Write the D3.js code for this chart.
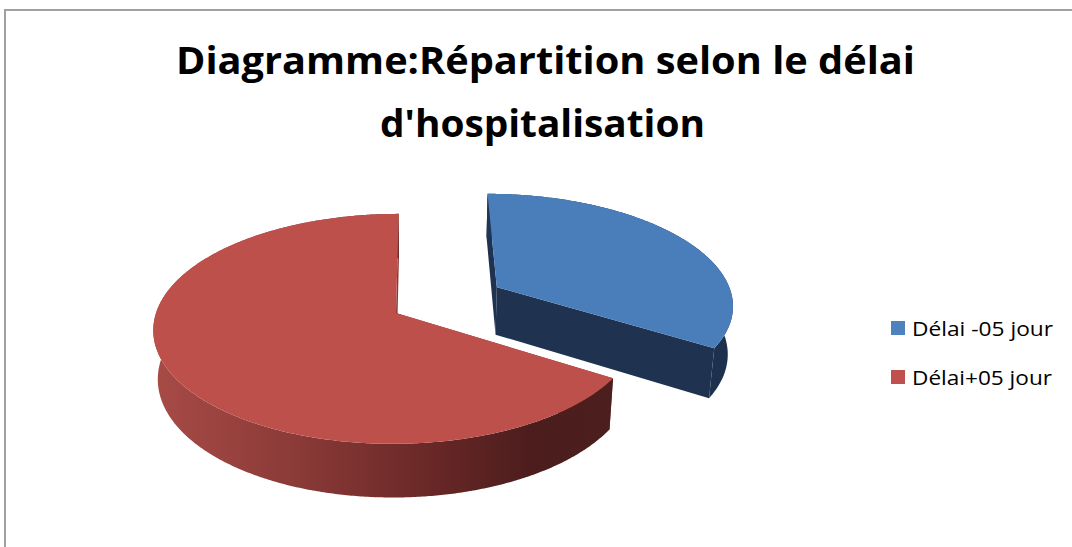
<!DOCTYPE html>
<html>
<head>
<meta charset="utf-8">
<script src="https://cdn.jsdelivr.net/npm/d3@7"></script>
<style>
  html, body { margin: 0; padding: 0; background: #ffffff; }
  svg { display: block; }
</style>
</head>
<body>
<script>
// ---- data ----
const titleLines = ["Diagramme:Répartition selon le délai", "d'hospitalisation"];
const categories = ["Délai -05 jour", "Délai+05 jour"];
const values = [34, 66];

// ---- styles ----
const topColors = ["#4A7EBB", "#BE504C"];
const legendColors = ["#4F81BD", "#C0504D"];
const cutColors = ["#1F3350", "#8A3836"];

const W = 1072, H = 547;
const svg = d3.select("body").append("svg").attr("width", W).attr("height", H);

// frame
svg.append("rect").attr("x", 5).attr("y", 10).attr("width", W + 10).attr("height", H + 10)
  .attr("fill", "none").attr("stroke", "#A0A0A0").attr("stroke-width", 2);

// title
const titleSpec = [{ x: 545.5, y: 74, w: 739 }, { x: 542.5, y: 137, w: 325 }];
titleLines.forEach((t, i) => {
  svg.append("text").text(t)
    .attr("x", titleSpec[i].x).attr("y", titleSpec[i].y)
    .attr("text-anchor", "middle")
    .attr("font-family", "'Open Sans', 'Liberation Sans', sans-serif")
    .attr("font-weight", "bold").attr("font-size", 38)
    .attr("textLength", titleSpec[i].w).attr("lengthAdjust", "spacingAndGlyphs")
    .attr("fill", "#000");
});

// ---- 3D pie projection ----
const cx = 396, cy = 313;
const R = 240, h = 56, D = 1537, camX = 22;
const sinP = 0.47, cosP = Math.sqrt(1 - sinP * sinP);
const explode = [118, 0];

function proj(x, y, z) {
  const Yc = y * cosP + z * sinP;
  const Zc = z * cosP - y * sinP;
  const s = D / (D + Zc);
  return [cx + camX + (x - camX) * s, cy - Yc * s];
}

const arcs = d3.pie().sort(null).value(d => d)(values);
const line = d3.line().curve(d3.curveLinearClosed);

// side gradients
const defs = svg.append("defs");
const g1 = defs.append("linearGradient").attr("id", "redSide")
  .attr("gradientUnits", "userSpaceOnUse").attr("x1", 152).attr("y1", 0).attr("x2", 612).attr("y2", 0);
[[0, "#A84B47"], [0.3, "#8C3B38"], [0.6, "#6A2827"], [0.82, "#4D1D1D"], [1, "#4C1E1E"]]
  .forEach(([o, c]) => g1.append("stop").attr("offset", o).attr("stop-color", c));
const g0 = defs.append("linearGradient").attr("id", "blueSide")
  .attr("gradientUnits", "userSpaceOnUse").attr("x1", 480).attr("y1", 0).attr("x2", 730).attr("y2", 0);
[[0, "#213655"], [1, "#1D314E"]]
  .forEach(([o, c]) => g0.append("stop").attr("offset", o).attr("stop-color", c));
const sideFills = ["url(#blueSide)", "url(#redSide)"];

const slices = arcs.map((a, i) => {
  const mid = (a.startAngle + a.endAngle) / 2;
  return { a, i, ox: explode[i] * Math.sin(mid), oz: explode[i] * Math.cos(mid) };
}).sort((p, q) => q.oz - p.oz);

const gPie = svg.append("g");
slices.forEach(sl => {
  const { a, i, ox, oz } = sl;
  const pt = (r, t, y) => proj(ox + r * Math.sin(t), y, oz + r * Math.cos(t));
  const n = Math.max(2, Math.ceil((a.endAngle - a.startAngle) / (Math.PI / 360)));
  const angs = d3.range(n + 1).map(k => a.startAngle + (a.endAngle - a.startAngle) * k / n);

  // cut faces
  [a.startAngle, a.endAngle].forEach(t => {
    const poly = [pt(0, t, 0), pt(R, t, 0), pt(R, t, -h), pt(0, t, -h)];
    gPie.append("path").attr("d", line(poly)).attr("fill", cutColors[i]);
  });
  // outer side
  const side = angs.map(t => pt(R, t, 0)).concat(angs.slice().reverse().map(t => pt(R, t, -h)));
  gPie.append("path").attr("d", line(side)).attr("fill", sideFills[i]);
  // top face
  const top = [pt(0, 0, 0)].concat(angs.map(t => pt(R, t, 0)));
  gPie.append("path").attr("d", line(top)).attr("fill", topColors[i]);
});

// legend
const legendText = [141, 140];
const leg = svg.append("g");
categories.forEach((c, i) => {
  const y = 321 + i * 49;
  leg.append("rect").attr("x", 891).attr("y", y).attr("width", 14).attr("height", 14)
    .attr("fill", legendColors[i]);
  leg.append("text").text(c).attr("x", 912).attr("y", y + 15)
    .attr("font-family", "'Open Sans', 'Liberation Sans', sans-serif")
    .attr("font-size", 20).attr("fill", "#000")
    .attr("textLength", legendText[i]).attr("lengthAdjust", "spacingAndGlyphs");
});
</script>
</body>
</html>
